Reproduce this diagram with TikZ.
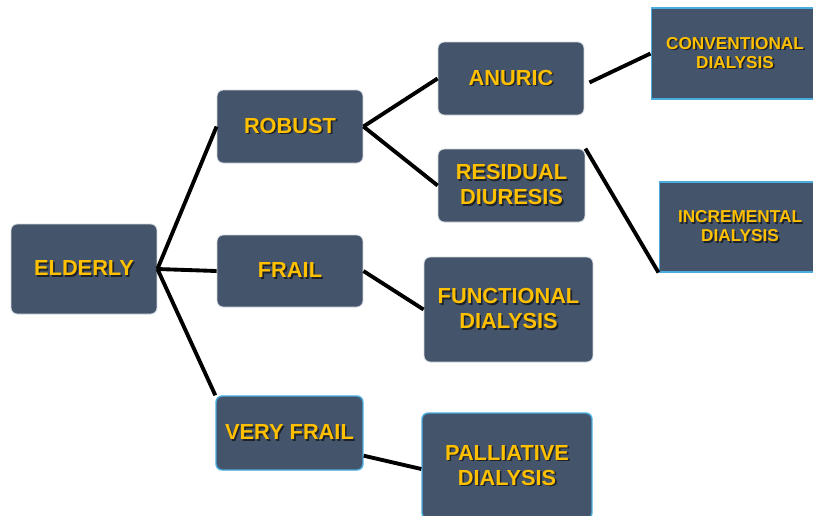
\documentclass[tikz,border=0pt]{standalone}
\usepackage{fontspec}
\setmainfont{Liberation Sans}
\usepackage{xcolor}
\usetikzlibrary{calc}
\definecolor{boxbg}{HTML}{44546A}
\definecolor{gold}{HTML}{FFC000}
\definecolor{edge}{HTML}{D3D8DE}
\definecolor{sky}{HTML}{4BACDF}
\definecolor{shd}{HTML}{1E232B}
\newcommand{\shtxt}[1]{\leavevmode\rlap{\hspace{0.9pt}\raisebox{-0.9pt}{\textcolor{shd}{#1}}}#1}
\tikzset{
  box/.style={draw=edge, line width=0.5pt, fill=boxbg, rounded corners=3.5pt, text=gold,
    font=\fontsize{12.4}{14.2}\selectfont\bfseries, align=center, inner sep=0pt},
  boxb/.style={box, draw=sky, line width=0.8pt},
  sq/.style={box, draw=sky, line width=0.6pt, rounded corners=0pt,
    font=\fontsize{9.8}{10.9}\selectfont\bfseries},
  link/.style={draw=black, line width=2.2pt},
}
\begin{document}
\begin{tikzpicture}[x=0.02cm, y=-0.02cm]
  \useasboundingbox (0,0) rectangle (813,515);
  \clip (0,0) rectangle (813,515);

  % first column
  \node[box, minimum width=2.92cm, minimum height=1.8cm] (elderly) at (84,269) {\shtxt{ELDERLY}};

  % second column
  \node[box, minimum width=2.92cm, minimum height=1.46cm] (robust) at (290,126.5) {\shtxt{ROBUST}};
  \node[box, minimum width=2.92cm, minimum height=1.44cm] (frail) at (290,271) {\shtxt{FRAIL}};
  \node[boxb, minimum width=2.94cm, minimum height=1.48cm] (veryfrail) at (289.5,433) {\shtxt{VERY FRAIL}};

  % third column
  \node[box, minimum width=2.92cm, minimum height=1.46cm] (anuric) at (511,78.5) {\shtxt{ANURIC}};
  \node[box, minimum width=2.94cm, minimum height=1.46cm] (residual) at (511.5,185.5) {\shtxt{RESIDUAL}\\\shtxt{DIURESIS}};
  \node[box, minimum width=3.38cm, minimum height=2.1cm] (functional) at (508.5,309.5) {\shtxt{FUNCTIONAL}\\\shtxt{DIALYSIS}};
  \node[boxb, minimum width=3.4cm, minimum height=2.12cm] (palliative) at (507,466) {\shtxt{PALLIATIVE}\\\shtxt{DIALYSIS}};

  % fourth column
  \node[sq, minimum width=3.36cm, minimum height=1.82cm] (conventional) at (735,53.5) {\shtxt{CONVENTIONAL}\\\shtxt{DIALYSIS}};
  \node[sq, minimum width=3.24cm, minimum height=1.8cm] (incremental) at (740,227) {\shtxt{INCREMENTAL}\\\shtxt{DIALYSIS}};

  % connectors
  \draw[link] (elderly.east) -- (robust.west);
  \draw[link] (elderly.east) -- (frail.west);
  \draw[link] (elderly.east) -- (veryfrail.north west);
  \draw[link] (robust.east) -- (anuric.west);
  \draw[link] (robust.east) -- (residual.west);
  \draw[link] ($(anuric.east)+(5,4)$) -- (conventional.west);
  \draw[link] (residual.north east) -- (incremental.south west);
  \draw[link] (frail.east) -- (functional.west);
  \draw[link] ($(veryfrail.south east)+(0,-15)$) -- ($(palliative.west)+(0,3)$);
\end{tikzpicture}
\end{document}
